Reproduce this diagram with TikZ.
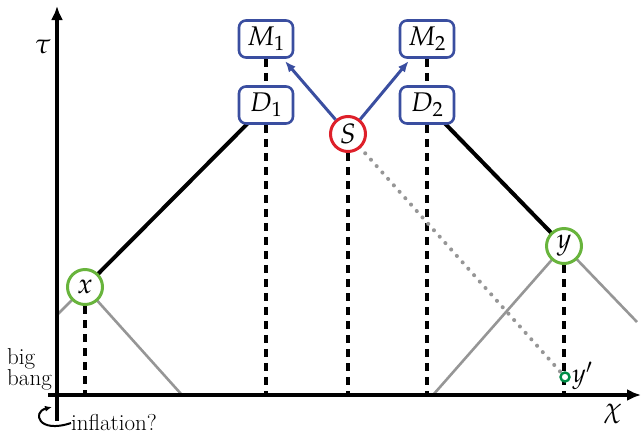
\documentclass[tikz,border=0pt]{standalone}
\usepackage{mathpazo}
\usetikzlibrary{arrows.meta,backgrounds}
\definecolor{bblue}{RGB}{58,78,160}
\definecolor{ggreen}{RGB}{104,180,60}
\definecolor{rred}{RGB}{222,32,42}
\definecolor{dgreen}{RGB}{0,140,70}
\definecolor{lgray}{RGB}{150,150,150}
\tikzset{
  evbox/.style={draw=bblue, line width=2.6pt, rounded corners=7pt, fill=white,
    minimum width=54pt, minimum height=37pt, inner sep=1pt, font=\fontsize{27}{30}\selectfont},
  evcirc/.style={circle, line width=3pt, fill=white, minimum size=35pt, inner sep=0pt,
    font=\fontsize{28}{30}\selectfont},
  axisline/.style={line width=3.5pt, -{Latex[length=14pt,width=12pt]}},
  wline/.style={line width=4pt},
  gline/.style={line width=2.6pt, lgray},
  dline/.style={line width=3.2pt, dash pattern=on 8pt off 6pt},
  dotline/.style={line width=4pt, lgray, dash pattern=on 0.1pt off 8.5pt, line cap=round},
  barrow/.style={line width=3pt, bblue, -{Latex[length=11pt,width=9pt]}, shorten >=3pt},
  lbl/.style={font=\fontsize{23}{24}\selectfont, inner sep=0pt}
}
\begin{document}
\begin{tikzpicture}[x=1pt,y=-1pt]
\useasboundingbox (0,0) rectangle (642,437);
% axes coordinates
\coordinate (o) at (57,395);
\coordinate (ytop) at (57,6);
\coordinate (ybot) at (57,421);
\coordinate (xstart) at (48,395);
\coordinate (xend) at (641,395);
% nodes
\node[evcirc, draw=ggreen] (x) at (85,287) {$x$};
\node[evcirc, draw=ggreen] (y) at (564,246) {$y$};
\node[evcirc, draw=rred] (S) at (348,134) {$S$};
\node[evbox] (M1) at (266,39) {$M_1$};
\node[evbox] (D1) at (266,105) {$D_1$};
\node[evbox] (M2) at (427,39) {$M_2$};
\node[evbox] (D2) at (427,105) {$D_2$};
\node[circle, draw=dgreen, line width=2.4pt, minimum size=9pt, inner sep=0pt, fill=white] (yp) at (565,377) {};
\node[lbl, anchor=west, font=\fontsize{26}{28}\selectfont] (yplbl) at (572,376) {$y'$};
% light-cone end points
\coordinate (xl) at (57,315);
\coordinate (xr) at (182,395);
\coordinate (yl) at (433,395);
\coordinate (yr) at (637,322);
\begin{scope}[on background layer]
  \draw[gline] (xl) -- (x.center) -- (xr);
  \draw[gline] (yl) -- (y.center) -- (yr);
  \draw[dline] (x) -- (x |- o);
  \draw[dline] (M1) -- (D1);
  \draw[dline] (D1) -- (D1 |- o);
  \draw[dline] (S) -- (S |- o);
  \draw[dline] (M2) -- (D2);
  \draw[dline] (D2) -- (D2 |- o);
  \draw[dline] (y) -- (y |- o);
  \draw[dotline] (S.center) -- (yp.center);
  \draw[wline] (x.center) -- (D1.center);
  \draw[wline] (D2.center) -- (y.center);
  \draw[axisline] (ybot) -- (ytop);
  \draw[axisline] (xstart) -- (xend);
\end{scope}
\draw[barrow] (S) -- (M1);
\draw[barrow] (S) -- (M2);
% labels
\node[lbl, font=\fontsize{28}{30}\selectfont] (tau) at (43,47) {$\tau$};
\node[lbl, font=\fontsize{28}{30}\selectfont] (chi) at (613,414) {$\chi$};
\node[lbl, align=left, anchor=west] (bb) at (7,369) {big\\[-3pt]bang};
\node[lbl, anchor=west] (infl) at (71,423) {inflation?};
\draw[line width=2pt, -{Latex[length=7pt,width=6pt]}] (infl.west) .. controls (38,434) and (32,412) .. (52,407);
\end{tikzpicture}
\end{document}
